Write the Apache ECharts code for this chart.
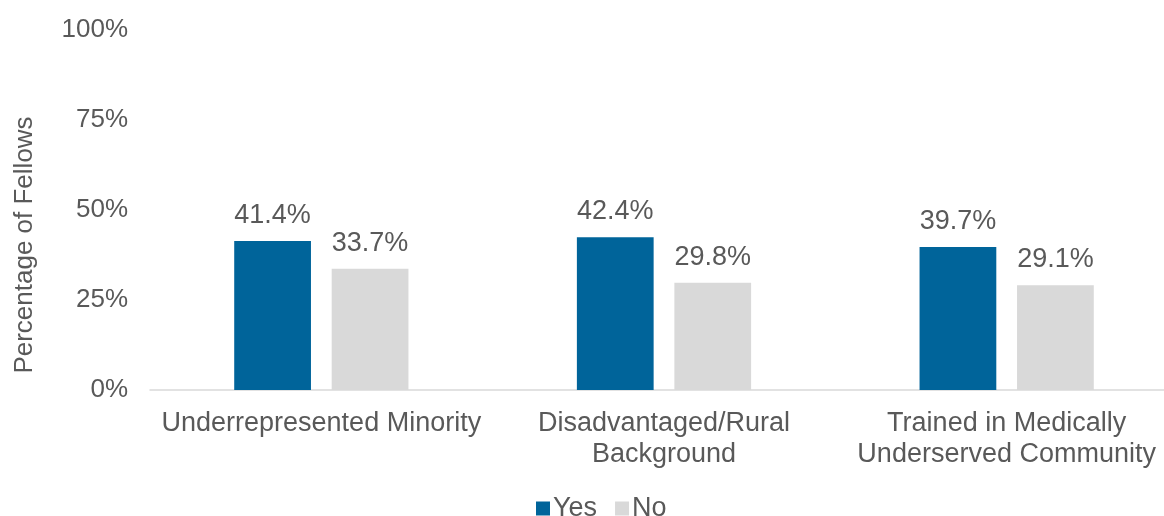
<!DOCTYPE html>
<html>
<head>
<meta charset="utf-8">
<script src="https://cdn.jsdelivr.net/npm/echarts@6/dist/echarts.min.js"></script>
<style>html,body{margin:0;padding:0;background:#fff}#c{width:1164px;height:516px}</style>
</head>
<body>
<div id="c"></div>
<script>
var categories = ['Underrepresented Minority', 'Disadvantaged/Rural\nBackground', 'Trained in Medically\nUnderserved Community'];
var yesValues = [41.4, 42.4, 39.7];
var noValues = [33.7, 29.8, 29.1];
var seriesNames = ['Yes', 'No'];
var yTicks = [0, 25, 50, 75, 100];

var chart = echarts.init(document.getElementById('c'), null, {renderer: 'canvas'});
var font = 'Liberation Sans, Arial, sans-serif';
var txt = '#595959';
chart.setOption({
  animation: false,
  textStyle: {fontFamily: font},
  grid: {left: 150, width: 1028, top: 30, height: 360, containLabel: false, outerBoundsMode: 'none'},
  legend: {
    data: seriesNames,
    top: 490,
    left: 531,
    icon: 'rect',
    itemWidth: 14,
    itemHeight: 14,
    itemGap: 18,
    textStyle: {fontSize: 27, color: txt, fontFamily: font, padding: [0, 0, 0, -2]}
  },
  xAxis: {
    type: 'category',
    data: categories,
    axisLine: {lineStyle: {color: '#D9D9D9', width: 1.5}},
    axisTick: {show: false},
    axisLabel: {fontSize: 27, color: txt, fontFamily: font, margin: 18, lineHeight: 31, interval: 0}
  },
  yAxis: {
    type: 'value',
    min: 0, max: 100, interval: 25,
    splitLine: {show: false},
    axisLine: {show: false},
    axisTick: {show: false},
    axisLabel: {fontSize: 26, color: txt, fontFamily: font, margin: 22, formatter: function (v) { return yTicks.indexOf(v) >= 0 ? v + '%' : ''; }}
  },
  graphic: [{
    type: 'text',
    x: 25, y: 245,
    rotation: Math.PI / 2,
    style: {text: 'Percentage of Fellows', fontSize: 26, fill: txt, font: '26px ' + font, align: 'center', verticalAlign: 'middle'}
  }],
  series: [{
    name: seriesNames[0], type: 'bar', data: yesValues,
    barWidth: '22.4%', barGap: '27%',
    itemStyle: {color: '#00649A'},
    label: {show: true, position: 'top', distance: 12, fontSize: 27, color: txt, fontFamily: font, formatter: function (p) { return p.value.toFixed(1) + '%'; }}
  }, {
    name: seriesNames[1], type: 'bar', data: noValues,
    barWidth: '22.4%', barGap: '27%',
    itemStyle: {color: '#D9D9D9'},
    label: {show: true, position: 'top', distance: 12, fontSize: 27, color: txt, fontFamily: font, formatter: function (p) { return p.value.toFixed(1) + '%'; }}
  }]
});
</script>
</body>
</html>
